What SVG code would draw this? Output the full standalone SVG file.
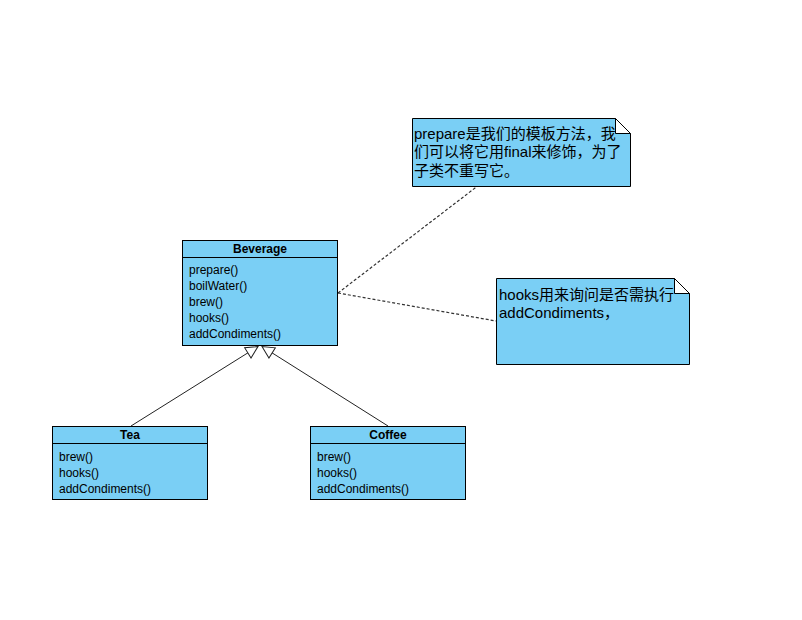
<svg xmlns="http://www.w3.org/2000/svg" width="802" height="620" viewBox="0 0 802 620">
<style>
.box{fill:#7acff5;stroke:#000;stroke-width:1}
.t{font-family:"Liberation Sans","Noto Sans CJK SC",sans-serif;fill:#000}
.title{font-size:12px;font-weight:bold;text-anchor:middle}
.m{font-size:12px}
.n{font-size:15px}
.gen{stroke:#222;stroke-width:1;fill:none}
.dash{stroke:#333;stroke-width:1.2;stroke-dasharray:3 2;fill:none}
</style>
<defs>
<marker id="tri" markerUnits="userSpaceOnUse" markerWidth="14" markerHeight="14" viewBox="0 0 14 14" refX="13" refY="7" orient="auto">
<path d="M13,7 L1,1 L1,13 Z" fill="#fff" stroke="#222" stroke-width="1"/>
</marker>
</defs>
<rect width="802" height="620" fill="#fff"/>
<g id="connectors">
<line class="gen" x1="131" y1="426" x2="258" y2="346.5" marker-end="url(#tri)"/>
<line class="gen" x1="388" y1="426" x2="262" y2="346.5" marker-end="url(#tri)"/>
<line class="dash" x1="338" y1="293" x2="477" y2="186.5"/>
<line class="dash" x1="338" y1="293" x2="496" y2="321"/>
</g>
<g id="Beverage">
<rect class="box" x="182.5" y="240.5" width="155" height="105"/>
<line x1="182.5" y1="257.5" x2="337.5" y2="257.5" stroke="#000"/>
<text class="t title" x="260" y="253">Beverage</text>
<text class="t m" x="189" y="274">prepare()</text>
<text class="t m" x="189" y="290">boilWater()</text>
<text class="t m" x="189" y="306">brew()</text>
<text class="t m" x="189" y="322">hooks()</text>
<text class="t m" x="189" y="338">addCondiments()</text>
</g>
<g id="Tea">
<rect class="box" x="52.5" y="426.5" width="155" height="73"/>
<line x1="52.5" y1="443.5" x2="207.5" y2="443.5" stroke="#000"/>
<text class="t title" x="130" y="439">Tea</text>
<text class="t m" x="59" y="461">brew()</text>
<text class="t m" x="59" y="477">hooks()</text>
<text class="t m" x="59" y="493">addCondiments()</text>
</g>
<g id="Coffee">
<rect class="box" x="310.5" y="426.5" width="155" height="73"/>
<line x1="310.5" y1="443.5" x2="465.5" y2="443.5" stroke="#000"/>
<text class="t title" x="388" y="439">Coffee</text>
<text class="t m" x="317" y="461">brew()</text>
<text class="t m" x="317" y="477">hooks()</text>
<text class="t m" x="317" y="493">addCondiments()</text>
</g>
<g id="note1">
<path d="M412.5,118.5 H615.5 L630.5,133.5 V186.5 H412.5 Z" fill="#7acff5" stroke="#000"/>
<path d="M615.5,118.5 V133.5 H630.5 Z" fill="#fff" stroke="#000"/>
<text class="t n" x="414" y="138.5">prepare是我们的模板方法，我</text>
<text class="t n" x="414" y="157">们可以将它用final来修饰，为了</text>
<text class="t n" x="414" y="175.5">子类不重写它。</text>
</g>
<g id="note2">
<path d="M496.5,278.5 H674.5 L689.5,293.5 V364.5 H496.5 Z" fill="#7acff5" stroke="#000"/>
<path d="M674.5,278.5 V293.5 H689.5 Z" fill="#fff" stroke="#000"/>
<text class="t n" x="499" y="300">hooks用来询问是否需执行</text>
<text class="t n" x="499" y="318">addCondiments，</text>
</g>
</svg>
